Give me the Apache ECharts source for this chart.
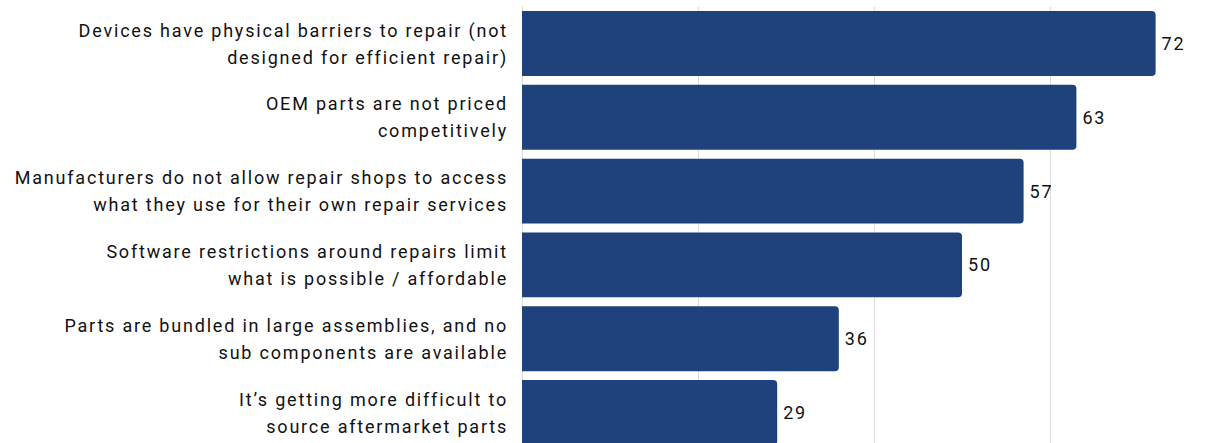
<!DOCTYPE html>
<html>
<head>
<meta charset="utf-8">
<script src="https://cdn.jsdelivr.net/npm/echarts@6/dist/echarts.min.js"></script>
<style>
  html, body { margin: 0; padding: 0; background: #ffffff; }
  #chart { width: 1220px; height: 443px; }
  #chart svg text { letter-spacing: 1.8px; }
</style>
</head>
<body>
<div id="chart"></div>
<script>
// Reasons cited as barriers to repair (share of respondents)
const categories = [
  'Devices have physical barriers to repair (not\ndesigned for efficient repair)',
  'OEM parts are not priced\ncompetitively',
  'Manufacturers do not allow repair shops to access\nwhat they use for their own repair services',
  'Software restrictions around repairs limit\nwhat is possible / affordable',
  'Parts are bundled in large assemblies, and no\nsub components are available',
  'It\u2019s getting more difficult to\nsource aftermarket parts'
];
const values = [72, 63, 57, 50, 36, 29];

const chart = echarts.init(document.getElementById('chart'), null, { renderer: 'svg' });

chart.setOption({
  animation: false,
  textStyle: { fontFamily: 'Roboto, sans-serif' },
  grid: {
    left: 522, top: 6.6, width: 704, height: 442.8,
    containLabel: false,
    outerBoundsMode: 'none'
  },
  xAxis: {
    type: 'value',
    min: 0,
    max: 80,
    interval: 20,
    axisLabel: { show: false },
    axisLine: { show: false },
    axisTick: { show: false },
    splitLine: { show: true, lineStyle: { color: '#dcdcdc', width: 1 } }
  },
  yAxis: {
    type: 'category',
    inverse: true,
    data: categories,
    axisLine: { show: true, lineStyle: { color: '#dcdcdc', width: 1 } },
    axisTick: { show: false },
    axisLabel: {
      color: '#111111',
      fontSize: 18,
      lineHeight: 27,
      margin: 14,
      align: 'right',
      fontFamily: 'Roboto, sans-serif'
    }
  },
  series: [{
    type: 'bar',
    data: values,
    barCategoryGap: '12%',
    itemStyle: { color: '#1f417c', borderRadius: [0, 4, 4, 0] },
    label: {
      show: true,
      position: 'right',
      distance: 6,
      color: '#111111',
      fontSize: 18,
      fontFamily: 'Roboto, sans-serif'
    }
  }]
});
</script>
</body>
</html>
